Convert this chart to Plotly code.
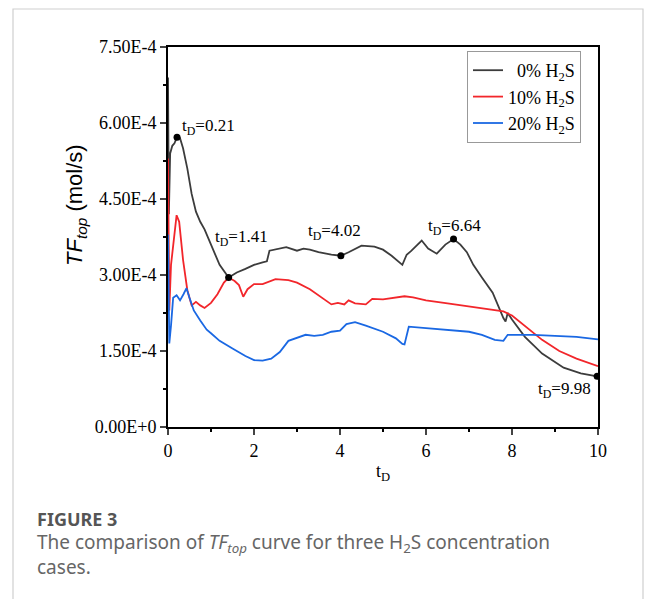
import numpy as np
import plotly.graph_objects as go

# ---------------- data (values in units of 1E-4 mol/s) ----------------
t_0 = [0, 0.02, 0.05, 0.1, 0.15, 0.21, 0.28, 0.35, 0.45, 0.55, 0.65, 0.75, 0.85, 1.0, 1.2, 1.41,
       1.6, 1.8, 2.0, 2.2, 2.3, 2.36, 2.5, 2.75, 3.0, 3.15, 3.3, 3.5, 3.8, 4.02, 4.2, 4.5, 4.8,
       5.0, 5.2, 5.45, 5.55, 5.65, 5.9, 6.05, 6.25, 6.45, 6.64, 6.8, 6.95, 7.1, 7.3, 7.55, 7.8,
       7.85, 7.9, 8.0, 8.3, 8.7, 9.2, 9.6, 9.98, 10]
v_0 = [6.9, 4.2, 5.4, 5.55, 5.6, 5.72, 5.7, 5.5, 5.1, 4.6, 4.25, 4.05, 3.9, 3.6, 3.2, 2.95,
       3.05, 3.12, 3.2, 3.25, 3.27, 3.48, 3.5, 3.55, 3.48, 3.52, 3.5, 3.45, 3.4, 3.38, 3.45, 3.58,
       3.56, 3.5, 3.38, 3.2, 3.4, 3.47, 3.68, 3.52, 3.42, 3.6, 3.71, 3.6, 3.45, 3.2, 2.95, 2.65,
       2.15, 2.08, 2.25, 2.12, 1.78, 1.45, 1.17, 1.06, 1.0, 0.99]

t_10 = [0, 0.03, 0.07, 0.12, 0.2, 0.26, 0.35, 0.45, 0.55, 0.65, 0.75, 0.85, 1.0, 1.15, 1.3, 1.41,
        1.55, 1.65, 1.75, 1.85, 2.0, 2.2, 2.5, 2.8, 3.0, 3.3, 3.6, 3.8, 3.95, 4.1, 4.2, 4.35, 4.6,
        4.75, 5.0, 5.3, 5.5, 5.7, 6.0, 6.5, 7.0, 7.5, 7.8, 8.0, 8.3, 8.7, 9.1, 9.5, 10]
v_10 = [5.3, 2.3, 3.2, 3.6, 4.18, 4.05, 3.3, 2.7, 2.4, 2.47, 2.4, 2.35, 2.45, 2.62, 2.85, 2.95,
        2.88, 2.8, 2.57, 2.72, 2.82, 2.82, 2.92, 2.9, 2.85, 2.72, 2.55, 2.42, 2.45, 2.42, 2.5, 2.44,
        2.42, 2.53, 2.52, 2.55, 2.58, 2.56, 2.5, 2.44, 2.38, 2.33, 2.28, 2.2, 2.0, 1.72, 1.5, 1.35, 1.2]

t_20 = [0, 0.03, 0.07, 0.12, 0.2, 0.28, 0.36, 0.43, 0.5, 0.6, 0.75, 0.9, 1.0, 1.2, 1.5, 1.8, 2.0,
        2.2, 2.4, 2.6, 2.8, 3.0, 3.2, 3.4, 3.6, 3.8, 4.0, 4.15, 4.35, 4.6, 5.0, 5.3, 5.45, 5.5, 5.6,
        6.0, 6.5, 7.0, 7.3, 7.6, 7.8, 7.9, 8.5, 9.0, 9.5, 10]
v_20 = [3.8, 1.65, 2.0, 2.55, 2.6, 2.5, 2.62, 2.74, 2.55, 2.3, 2.1, 1.92, 1.85, 1.7, 1.55, 1.4, 1.32,
        1.31, 1.35, 1.48, 1.7, 1.76, 1.82, 1.8, 1.82, 1.88, 1.9, 2.03, 2.07, 2.0, 1.88, 1.75, 1.64, 1.63,
        1.98, 1.95, 1.92, 1.88, 1.82, 1.72, 1.7, 1.82, 1.82, 1.8, 1.78, 1.73]

series_names = ["\u20070% H<sub>2</sub>S", "10% H<sub>2</sub>S", "20% H<sub>2</sub>S"]

mark_t = [0.21, 1.41, 4.02, 6.64, 9.98]
mark_v = [5.72, 2.95, 3.38, 3.71, 1.0]
mark_labels = ["t<sub>D</sub>=0.21", "t<sub>D</sub>=1.41", "t<sub>D</sub>=4.02",
               "t<sub>D</sub>=6.64", "t<sub>D</sub>=9.98"]
label_t = [0.95, 1.71, 3.88, 6.66, 9.22]
label_v = [5.92, 3.73, 3.85, 3.95, 0.73]

y_tickvals = [0, 1.5, 3.0, 4.5, 6.0, 7.5]
y_ticktext = ["0.00E+0", "1.50E-4", "3.00E-4", "4.50E-4", "6.00E-4", "7.50E-4"]
x_tickvals = [0, 2, 4, 6, 8, 10]

SCALE = 1e-4
colors = ["#3c3c3c", "#f2262b", "#1a68e3"]

# plot area in page pixels: x 168..598, y 47..427 (page has an 8px body margin)
def px(x):
    return (x - 168) / 430.0

def py(y):
    return (427 - y) / 380.0

fig = go.Figure()
for i, (t, v, name, c) in enumerate(zip([t_0, t_10, t_20], [v_0, v_10, v_20], series_names, colors)):
    fig.add_trace(go.Scatter(x=t, y=np.array(v) * SCALE, mode="lines", name=name,
                             line=dict(color=c, width=1.8)))

fig.add_trace(go.Scatter(x=mark_t, y=np.array(mark_v) * SCALE, mode="markers", showlegend=False,
                         marker=dict(color="black", size=7)))

serif = "Liberation Serif, Times New Roman, serif"
for lt, lv, txt in zip(label_t, label_v, mark_labels):
    fig.add_annotation(x=lt, y=lv * SCALE, text=txt, showarrow=False,
                       font=dict(family=serif, size=17, color="black"))

# axis titles
fig.add_annotation(xref="paper", yref="paper", x=px(76), y=py(205), textangle=-90,
                   xanchor="center", yanchor="middle", showarrow=False,
                   text="<i>TF<sub>top</sub></i> (mol/s)",
                   font=dict(family="Liberation Sans, Arial, sans-serif", size=22, color="black"))
fig.add_annotation(xref="paper", yref="paper", x=0.5, y=py(472),
                   xanchor="center", yanchor="middle", showarrow=False,
                   text="t<sub>D</sub>", font=dict(family=serif, size=18, color="black"))

# card border
fig.add_shape(type="rect", xref="paper", yref="paper",
              x0=px(13), x1=px(643), y0=py(640), y1=py(9),
              line=dict(color="#cfcfcf", width=1.2), layer="below")

# caption
sans = "Noto Sans, Open Sans, sans-serif"
fig.add_annotation(xref="paper", yref="paper", x=px(35), y=py(519),
                   xanchor="left", yanchor="middle", showarrow=False, text="<b>FIGURE 3</b>",
                   font=dict(family=sans, size=18, color="#555555"))
fig.add_annotation(xref="paper", yref="paper", x=px(35), y=py(543),
                   xanchor="left", yanchor="middle", showarrow=False,
                   text="The comparison of <i>TF<sub>top</sub></i> curve for three H<sub>2</sub>S concentration",
                   font=dict(family=sans, size=19, color="#666666"))
fig.add_annotation(xref="paper", yref="paper", x=px(35), y=py(567),
                   xanchor="left", yanchor="middle", showarrow=False, text="cases.",
                   font=dict(family=sans, size=19, color="#666666"))

fig.update_layout(
    width=648, height=591,
    margin=dict(l=160, r=58, t=39, b=172),
    paper_bgcolor="white", plot_bgcolor="white",
    showlegend=True,
    legend=dict(x=px(581), y=py(51), xanchor="right", yanchor="top",
                bordercolor="#999999", borderwidth=1, bgcolor="white",
                font=dict(family=serif, size=18, color="black"),
                tracegroupgap=0, itemwidth=30),
)
fig.update_xaxes(range=[0, 10], tickvals=x_tickvals, ticks="outside", ticklen=6, tickwidth=1.5,
                 showline=True, linecolor="black", linewidth=2, mirror=True, showgrid=False,
                 zeroline=False, tickfont=dict(family=serif, size=18, color="black"),
                 minor=dict(ticks="outside", ticklen=3, tickwidth=1.5, dtick=1, tickcolor="black"))
fig.update_yaxes(range=[0, 7.5 * SCALE], tickvals=np.array(y_tickvals) * SCALE, ticktext=y_ticktext,
                 ticks="outside", ticklen=6, tickwidth=1.5,
                 showline=True, linecolor="black", linewidth=2, mirror=True, showgrid=False,
                 zeroline=False, tickfont=dict(family=serif, size=18, color="black"),
                 minor=dict(ticks="outside", ticklen=3, tickwidth=1.5,
                            tickvals=list(np.array([0.75, 2.25, 3.75, 5.25, 6.75]) * SCALE),
                            tickcolor="black"))

fig.write_html("out.html")
